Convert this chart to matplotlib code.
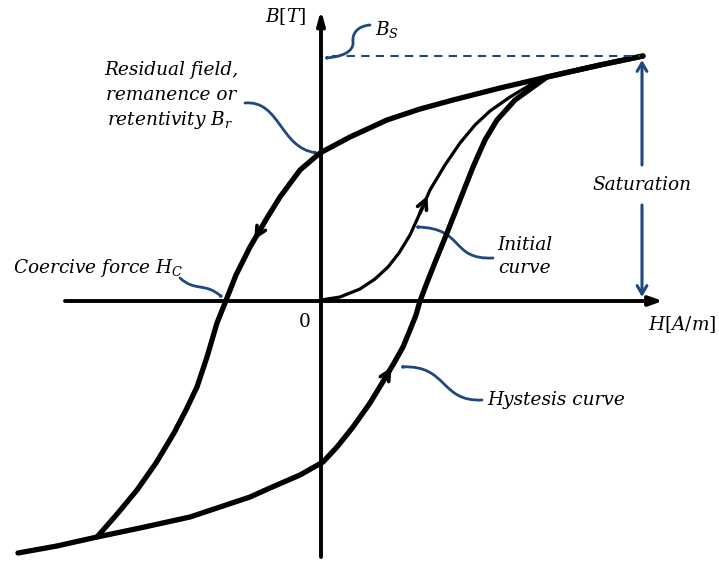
import matplotlib
matplotlib.use("Agg")
import matplotlib.pyplot as plt
from matplotlib.patches import FancyArrowPatch
from matplotlib.path import Path

plt.rcParams["mathtext.fontset"] = "dejavuserif"
plt.rcParams["font.family"] = ["DejaVu Serif"]

# Descending branch of the loop: from +saturation down to -saturation
H_desc = [3.22, 2.79, 2.26, 1.79, 1.32, 0.99, 0.66, 0.29, -0.01, -0.21, -0.41,
          -0.54, -0.71, -0.85, -0.96, -1.04, -1.14, -1.24, -1.35, -1.47, -1.65,
          -1.84, -2.03, -2.24]
B_desc = [2.45, 2.36, 2.24, 2.13, 2.01, 1.92, 1.81, 1.64, 1.48, 1.31, 1.04,
          0.83, 0.54, 0.26, -0.02, -0.22, -0.56, -0.86, -1.09, -1.32, -1.62,
          -1.89, -2.12, -2.36]

# Ascending branch of the loop: from the lower tail up to +saturation
H_asc = [-3.03, -2.64, -2.24, -1.81, -1.31, -0.71, -0.51, -0.21, 0.02, 0.16,
         0.32, 0.49, 0.63, 0.73, 0.82, 0.89, 0.95, 0.99, 1.07, 1.15, 1.26,
         1.39, 1.52, 1.64, 1.76, 1.94, 2.26, 2.79, 3.22]
B_asc = [-2.52, -2.45, -2.36, -2.27, -2.16, -1.96, -1.87, -1.74, -1.61, -1.46,
         -1.26, -1.02, -0.79, -0.62, -0.46, -0.29, -0.14, 0.00, 0.21, 0.41,
         0.68, 1.01, 1.34, 1.61, 1.81, 2.01, 2.24, 2.36, 2.45]

# Initial magnetisation curve starting at the origin
H_init = [0.0, 0.19, 0.39, 0.54, 0.67, 0.78, 0.89, 0.99, 1.09, 1.24, 1.39,
          1.54, 1.69, 1.89, 2.14]
B_init = [0.01, 0.04, 0.12, 0.22, 0.34, 0.48, 0.66, 0.88, 1.11, 1.36, 1.58,
          1.76, 1.90, 2.04, 2.19]

B_SAT = 2.45
H_SAT = 3.21

BLUE = "#1F497D"

fig = plt.figure(figsize=(7.19, 5.62), dpi=100)
ax = fig.add_axes([0, 0, 1, 1])
ax.set_xlim(-3.21, 3.98)
ax.set_ylim(-2.61, 3.01)
ax.axis("off")

# Coordinate axes with arrow heads
ax.annotate("", xy=(0, 2.91), xytext=(0, -2.56),
            arrowprops=dict(arrowstyle="-|>,head_length=0.8,head_width=0.22",
                            lw=2.8, color="black", shrinkA=0, shrinkB=0))
ax.annotate("", xy=(3.42, 0), xytext=(-2.56, 0),
            arrowprops=dict(arrowstyle="-|>,head_length=0.8,head_width=0.28",
                            lw=2.8, color="black", shrinkA=0, shrinkB=0))

# Loop branches and initial curve
line_kw = dict(color="black", solid_capstyle="round", solid_joinstyle="round")
ax.plot(H_desc, B_desc, lw=3.8, **line_kw)
ax.plot(H_asc, B_asc, lw=3.8, **line_kw)
ax.plot(H_init, B_init, lw=2.3, **line_kw)


def direction_mark(h, b, i):
    """Small arrow head on a curve pointing from point i to point i+1."""
    x0, y0 = h[i], b[i]
    x1, y1 = h[i + 1], b[i + 1]
    xm, ym = x0 + 0.75 * (x1 - x0), y0 + 0.75 * (y1 - y0)
    ax.annotate("", xy=(xm, ym), xytext=(x0, y0),
                arrowprops=dict(arrowstyle="->,head_length=0.7,head_width=0.35",
                                lw=2.6, color="black", shrinkA=0, shrinkB=0))


direction_mark(H_desc, B_desc, 11)
direction_mark(H_asc, B_asc, 12)
direction_mark(H_init, B_init, 7)

# Saturation level, dashed
ax.plot([0.11, H_SAT - 0.02], [B_SAT, B_SAT], color=BLUE, lw=1.5,
        dashes=(4, 3))

# Saturation double arrow, split by its label
arr = "->,head_length=0.6,head_width=0.35"
ax.annotate("", xy=(H_SAT, B_SAT - 0.04), xytext=(H_SAT, 1.36),
            arrowprops=dict(arrowstyle=arr, lw=2.2, color=BLUE,
                            shrinkA=0, shrinkB=0))
ax.annotate("", xy=(H_SAT, 0.04), xytext=(H_SAT, 0.96),
            arrowprops=dict(arrowstyle=arr, lw=2.2, color=BLUE,
                            shrinkA=0, shrinkB=0))


def curved_pointer(verts):
    codes = [Path.MOVETO] + [Path.CURVE4] * (len(verts) - 1)
    patch = FancyArrowPatch(path=Path(verts, codes),
                            arrowstyle="->,head_length=0.55,head_width=0.35",
                            lw=2.0, color=BLUE, shrinkA=0, shrinkB=0)
    ax.add_patch(patch)


# B_S pointer
curved_pointer([(0.49, 2.76), (0.37, 2.75), (0.31, 2.68), (0.32, 2.59),
                (0.33, 2.49), (0.20, 2.44), (0.03, 2.43)])
# Remanence pointer
curved_pointer([(-0.76, 1.98), (-0.41, 2.01), (-0.41, 1.53), (-0.03, 1.48)])
# Coercive force pointer
curved_pointer([(-1.41, 0.23), (-1.26, 0.09), (-1.16, 0.19), (-0.98, 0.03)])
# Initial curve pointer
curved_pointer([(1.72, 0.43), (1.29, 0.41), (1.44, 0.73), (0.94, 0.74)])
# Hysteresis curve pointer
curved_pointer([(1.61, -0.99), (1.19, -1.01), (1.27, -0.64), (0.79, -0.66)])

fs = 13.3
txt = dict(fontsize=fs, fontstyle="italic", color="black")
ax.text(-1.50, 2.31, "Residual field,", ha="center", va="center", **txt)
ax.text(-1.50, 2.06, "remanence or", ha="center", va="center", **txt)
ax.text(-1.51, 1.81, "retentivity $B_r$", ha="center", va="center", **txt)
ax.text(-3.08, 0.33, "Coercive force $H_C$", ha="left", va="center", **txt)
ax.text(-0.35, 2.84, "$B[T]$", ha="center", va="center", fontsize=fs)
ax.text(0.54, 2.71, "$B_S$", ha="left", va="center", fontsize=fs)
ax.text(H_SAT, 1.16, "Saturation", ha="center", va="center", **txt)
ax.text(2.04, 0.56, "Initial", ha="center", va="center", **txt)
ax.text(2.04, 0.33, "curve", ha="center", va="center", **txt)
ax.text(3.61, -0.24, "$H[A/m]$", ha="center", va="center", fontsize=fs)
ax.text(1.66, -0.99, "Hystesis curve", ha="left", va="center", **txt)
ax.text(-0.16, -0.21, "0", ha="center", va="center", fontsize=fs)

fig.savefig("out.png", dpi=100)
